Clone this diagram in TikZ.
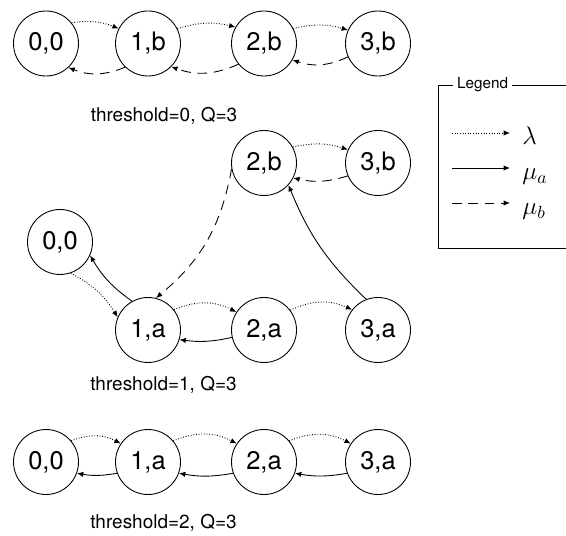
\documentclass[tikz,border=0pt]{standalone}
\usepackage{fontspec}
\newfontfamily\helv{TeX Gyre Heros}
\usetikzlibrary{arrows.meta, positioning}

\begin{document}
\begin{tikzpicture}[
    state/.style={circle, draw, line width=0.5pt, minimum size=1.3cm, inner sep=0pt, font=\helv\fontsize{14.5}{16}\selectfont},
    label/.style={font=\helv\fontsize{10.8}{13}\selectfont},
    lam/.style={densely dotted, line width=0.5pt, -{Latex[length=3.6pt, width=3pt]}},
    mua/.style={line width=0.5pt, -{Latex[length=3.6pt, width=3pt]}},
    mub/.style={dash pattern=on 5.5pt off 3.8pt, line width=0.5pt, -{Latex[length=3.6pt, width=3pt]}},
  ]
  \useasboundingbox (0,0) rectangle (11.32,-10.72);

  % --- threshold=0 ---
  \node[state] (a0) at (0.92,-0.87) {0,0};
  \foreach \i/\x in {1/2.96, 2/5.28, 3/7.56} {
    \node[state] (a\i) at (\x,-0.87) {\i,b};
  }
  \foreach \i/\j/\s/\e in {0/1/39/153, 1/2/27/150, 2/3/27/156} {
    \draw[lam] (a\i.\s) to[bend left=15] (a\j.\e);
  }
  \foreach \i/\j/\s/\e in {1/0/-134/-47, 2/1/-141/-45, 3/2/-156/-30} {
    \draw[mub] (a\i.\s) to[bend left=22] (a\j.\e);
  }
  \node[label] (t0) at (3.28,-2.32) {threshold=0, Q=3};

  % --- threshold=1 ---
  \node[state] (bb2) at (5.28,-3.26) {2,b};
  \node[state] (bb3) at (7.56,-3.26) {3,b};
  \node[state] (b0) at (1.2,-4.84) {0,0};
  \foreach \i/\x in {1/2.96, 2/5.28, 3/7.56} {
    \node[state] (b\i) at (\x,-6.6) {\i,a};
  }
  \draw[lam] (bb2.29) to[bend left=15] (bb3.156);
  \draw[mub] (bb3.-157) to[bend left=15] (bb2.-27);
  \draw[mub] (bb2.190) to[bend left=20] (b1.76);
  \draw[mua] (b3.111) to[bend left=12] (bb2.-42);
  \draw[mua] (b1.119) to[bend left=12] (b0.-24);
  \draw[lam] (b0.-71) to[bend left=15] (b1.157);
  \draw[lam] (b1.38) to[bend left=25] (b2.147);
  \draw[lam] (b2.37) to[bend left=25] (b3.142);
  \draw[mua] (b2.-167) to[bend left=10] (b1.-17);
  \node[label] (t1) at (3.27,-7.7) {threshold=1, Q=3};

  % --- threshold=2 ---
  \node[state] (c0) at (0.92,-9.24) {0,0};
  \foreach \i/\x in {1/2.96, 2/5.28, 3/7.56} {
    \node[state] (c\i) at (\x,-9.24) {\i,a};
  }
  \foreach \i/\j in {0/1, 1/2, 2/3} {
    \draw[lam] (c\i.40) to[bend left=25] (c\j.146);
  }
  \foreach \i/\j in {1/0, 2/1, 3/2} {
    \draw[mua] (c\i.-160) to[bend left=10] (c\j.-20);
  }
  \node[label] (t2) at (3.27,-10.46) {threshold=2, Q=3};

  % --- legend ---
  \node[font=\helv\fontsize{8.7}{10}\selectfont, inner sep=2pt] (legend) at (9.65,-1.7) {Legend};
  \draw[line width=0.5pt] (legend.west) -- (8.76,-1.7) -- (8.76,-4.96) -- (11.32,-4.96);
  \draw[line width=0.5pt] (legend.east) -- (11.32,-1.7);
  \foreach \n/\y/\st/\txt in {1/-2.66/lam/\lambda, 2/-3.36/mua/\mu_a, 3/-4.06/mub/\mu_b} {
    \coordinate (ls\n) at (9.04,\y);
    \coordinate (le\n) at (10.2,\y);
    \draw[\st] (ls\n) -- (le\n);
    \node[anchor=base west, inner sep=0pt, font=\fontsize{14}{16}\selectfont] (lt\n) at (10.44,\y-0.24) {$\txt$};
  }

\end{tikzpicture}
\end{document}
